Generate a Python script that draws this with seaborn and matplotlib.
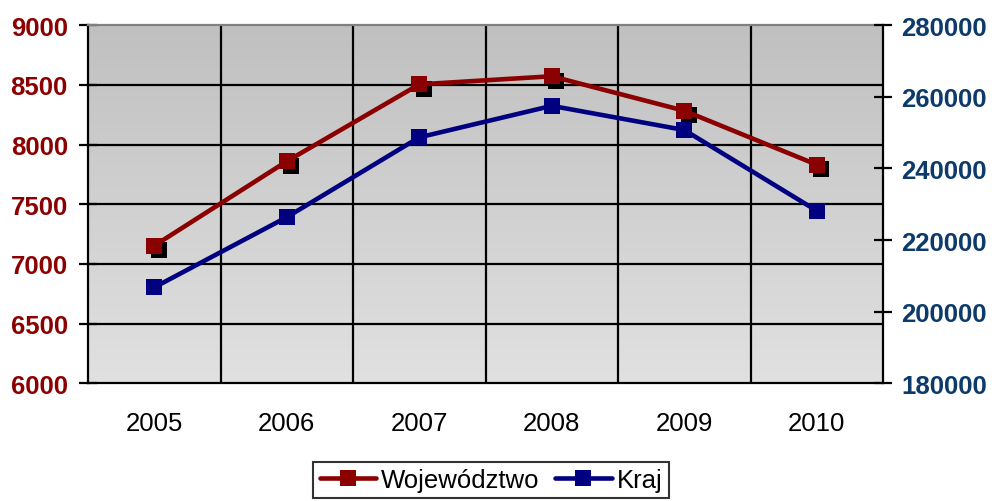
import matplotlib
matplotlib.use("Agg")
import matplotlib.pyplot as plt
import matplotlib.transforms as mtransforms
from matplotlib.colors import LinearSegmentedColormap
from matplotlib.lines import Line2D
import numpy as np
import pandas as pd
import seaborn as sns

years = ["2005", "2006", "2007", "2008", "2009", "2010"]
wojewodztwo = [7153, 7860, 8505, 8573, 8284, 7832]
kraj = [206800, 226400, 248700, 257500, 250750, 228200]
left_ticks = [6000, 6500, 7000, 7500, 8000, 8500, 9000]
right_ticks = [180000, 200000, 220000, 240000, 260000, 280000]

RED = "#8b0000"
BLUE = "#000080"
RED_LBL = "#8b0000"
BLUE_LBL = "#0c3a6b"

sns.set_style("white")
plt.rcParams["font.family"] = ["Liberation Sans", "DejaVu Sans"]
plt.rcParams["text.color"] = "black"
plt.rcParams["xtick.color"] = "black"
plt.rcParams["ytick.color"] = "black"

df = pd.DataFrame({"pos": np.arange(len(years)), "year": years,
                   "woj": wojewodztwo, "kraj": kraj})

fig = plt.figure(figsize=(9.92, 5.02), dpi=100)
ax = fig.add_axes([88 / 992, 1 - 384.3 / 502, (883 - 88) / 992, (384.3 - 26.3) / 502])

# gradient background (darker at top)
cmap = LinearSegmentedColormap.from_list("g", ["#c0c0c0", "#e1e1e1"])
grad = np.linspace(0, 1, 256).reshape(-1, 1)
ax.imshow(grad, extent=[0, 1, 0, 1], transform=ax.transAxes, aspect="auto",
          cmap=cmap, zorder=-10, origin="upper")
ax.set_facecolor("none")

MS = 11
LW = 3.3

# shadow of the red markers
sns.lineplot(data=df, x="pos", y="woj", ax=ax, marker="s", markersize=MS,
             color="black", linestyle="none", markeredgewidth=0, zorder=2)
shadow = ax.lines[-1]
shadow.set_transform(ax.transData + mtransforms.ScaledTranslation(4.5 / 100, -4.5 / 100, fig.dpi_scale_trans))

sns.lineplot(data=df, x="pos", y="woj", ax=ax, marker="s", markersize=MS,
             color=RED, linewidth=LW, markeredgewidth=0, zorder=3)

ax.set_xlim(-0.5, len(years) - 0.5)
ax.set_ylim(6000, 9000)
ax.set_yticks(left_ticks)
ax.set_yticklabels([str(t) for t in left_ticks], color=RED_LBL,
                   fontweight="bold", fontsize=18.5)
ax.set_xticks(df["pos"])
ax.set_xticklabels(years, fontsize=18.5, color="black")
ax.set_xticks(np.arange(-0.5, len(years)), minor=True)
ax.tick_params(axis="x", which="major", length=0, pad=20)
ax.tick_params(axis="x", which="minor", length=6.5, width=1.6, direction="out", color="black")
ax.tick_params(axis="y", which="major", length=13, width=1.6, direction="inout", pad=8, color="black")
ax.grid(False)
for y in left_ticks[1:-1]:
    ax.axhline(y, color="black", linewidth=1.6, zorder=1)
for x in np.arange(0.5, len(years) - 1):
    ax.axvline(x, color="black", linewidth=1.6, zorder=1)
ax.set_xlabel("")
ax.set_ylabel("")

for s in ["left", "right", "bottom"]:
    ax.spines[s].set_color("black")
    ax.spines[s].set_linewidth(1.6)
ax.spines["top"].set_color("#808080")
ax.spines["top"].set_linewidth(1.6)

ax2 = ax.twinx()
sns.lineplot(data=df, x="pos", y="kraj", ax=ax2, marker="s", markersize=MS,
             color=BLUE, linewidth=LW, markeredgewidth=0, zorder=3)
ax2.set_ylim(180000, 280000)
ax2.set_yticks(right_ticks)
ax2.set_yticklabels([str(t) for t in right_ticks], color=BLUE_LBL,
                    fontweight="bold", fontsize=18.5)
ax2.tick_params(axis="y", which="major", length=13, width=1.6, direction="inout", pad=6.5, color="black")
ax2.set_ylabel("")
ax2.set_xlabel("")
for s in ["left", "right", "bottom", "top"]:
    ax2.spines[s].set_visible(False)

handles = [Line2D([], [], color=RED, linewidth=LW, marker="s", markersize=MS, markeredgewidth=0),
           Line2D([], [], color=BLUE, linewidth=LW, marker="s", markersize=MS, markeredgewidth=0)]
leg = fig.legend(handles, ["Województwo", "Kraj"], loc="lower center",
                 bbox_to_anchor=(0.495, 0.0), ncol=2, fontsize=18.5, frameon=True,
                 fancybox=False, edgecolor="black", handlelength=2.2,
                 handletextpad=0.2, columnspacing=0.6, borderpad=0.25,
                 borderaxespad=0.1)
leg.get_frame().set_linewidth(1.5)
for t in leg.get_texts():
    t.set_color("black")

fig.savefig("out.png", dpi=100)
